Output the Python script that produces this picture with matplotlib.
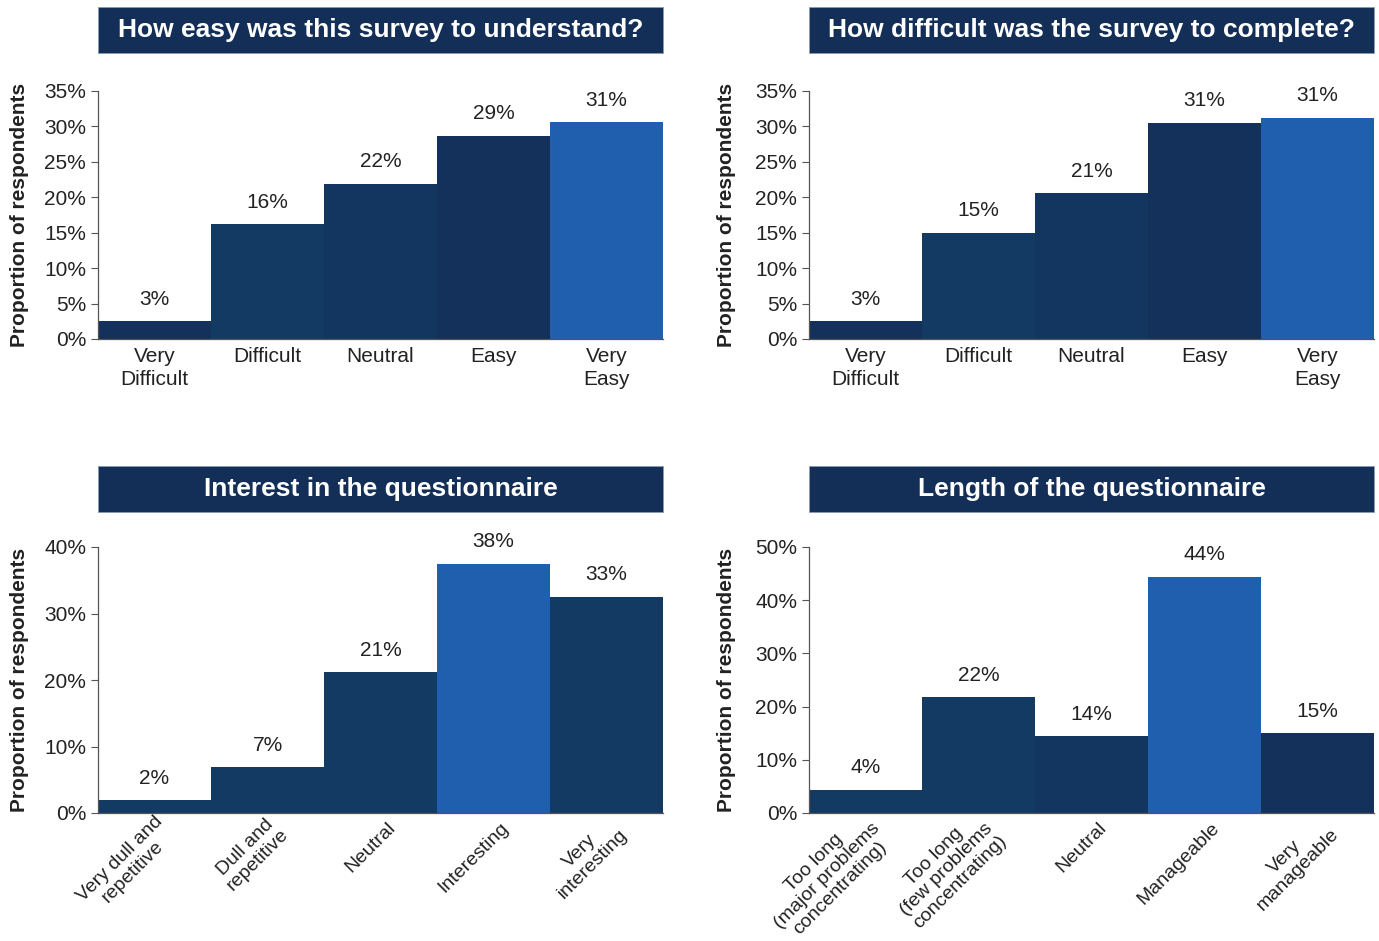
import matplotlib
matplotlib.use("Agg")
import matplotlib.pyplot as plt
from matplotlib.patches import Rectangle
from matplotlib.ticker import FuncFormatter, MultipleLocator
from matplotlib.transforms import ScaledTranslation

plt.rcParams['font.family'] = ['Liberation Sans', 'DejaVu Sans']

# ---- data ----
titles = ["How easy was this survey to understand?",
          "How difficult was the survey to complete?",
          "Interest in the questionnaire",
          "Length of the questionnaire"]

cats_understand = ["Very\nDifficult", "Difficult", "Neutral", "Easy", "Very\nEasy"]
vals_understand = [2.5, 16.2, 21.9, 28.7, 30.6]
labels_understand = ["3%", "16%", "22%", "29%", "31%"]

cats_complete = ["Very\nDifficult", "Difficult", "Neutral", "Easy", "Very\nEasy"]
vals_complete = [2.5, 15.0, 20.6, 30.5, 31.2]
labels_complete = ["3%", "15%", "21%", "31%", "31%"]

cats_interest = ["Very dull and\nrepetitive", "Dull and\nrepetitive", "Neutral",
                 "Interesting", "Very\ninteresting"]
vals_interest = [1.9, 6.9, 21.2, 37.5, 32.5]
labels_interest = ["2%", "7%", "21%", "38%", "33%"]

cats_length = ["Too long\n(major problems\nconcentrating)", "Too long\n(few problems\nconcentrating)",
               "Neutral", "Manageable", "Very\nmanageable"]
vals_length = [4.4, 21.8, 14.4, 44.4, 15.0]
labels_length = ["4%", "22%", "14%", "44%", "15%"]

NAVY = "#13315a"
NAVY2 = "#123a63"
NAVY3 = "#133661"
BLUE = "#1f5fad"
TITLE_BG = "#132f57"

colors_understand = [NAVY, NAVY2, NAVY3, NAVY, BLUE]
colors_complete = [NAVY, NAVY2, NAVY3, NAVY, BLUE]
colors_interest = [NAVY2, NAVY2, NAVY2, BLUE, NAVY2]
colors_length = [NAVY2, NAVY2, NAVY3, BLUE, NAVY]

W, H = 1379, 941
fig = plt.figure(figsize=(W / 100, H / 100), dpi=100)
fig.patch.set_facecolor("white")


def rect(x0, y0, x1, y1):
    return [x0 / W, 1 - y1 / H, (x1 - x0) / W, (y1 - y0) / H]


def panel(box, title_box, title, cats, vals, labels, colors, ymax, ystep, rotated, ylab_x):
    # title box
    tx0, ty0, tx1, ty1 = title_box
    fig.patches.append(Rectangle((tx0 / W, 1 - ty1 / H), (tx1 - tx0) / W, (ty1 - ty0) / H,
                                 transform=fig.transFigure, facecolor=TITLE_BG,
                                 edgecolor="#8a9ab0", linewidth=0.6))
    fig.text((tx0 + tx1) / 2 / W, 1 - (ty0 + ty1) / 2 / H, title, color="white",
             fontsize=19, fontweight="bold", ha="center", va="center")

    ax = fig.add_axes(rect(*box))
    x = list(range(len(cats)))
    ax.bar(x, vals, width=1.0, color=colors, edgecolor="none")
    ax.set_xlim(-0.5, len(cats) - 0.5)
    ax.set_ylim(0, ymax)
    ax.yaxis.set_major_locator(MultipleLocator(ystep))
    ax.yaxis.set_major_formatter(FuncFormatter(lambda v, p: f"{v:.0f}%"))
    for xi, v, lab in zip(x, vals, labels):
        ax.annotate(lab, (xi, v), xytext=(0, 9), textcoords="offset points",
                    ha="center", va="bottom", fontsize=15, color="#222222")
    ax.set_xticks(x)
    if rotated:
        ax.set_xticklabels(cats, rotation=45, ha="right", va="center",
                           rotation_mode="anchor", multialignment="center",
                           fontsize=14, color="#222222", linespacing=1.1)
        ax.tick_params(axis="x", length=0, pad=9)
        for t in ax.get_xticklabels():
            t.set_transform(t.get_transform() + ScaledTranslation(0.12, 0, fig.dpi_scale_trans))
    else:
        ax.set_xticklabels(cats, fontsize=15, color="#222222", linespacing=1.25)
        ax.tick_params(axis="x", length=0, pad=6)
    ax.tick_params(axis="y", labelsize=15, labelcolor="#222222", length=5,
                   color="#555555", width=0.8, direction="out")
    for s in ["top", "right"]:
        ax.spines[s].set_visible(False)
    for s in ["left", "bottom"]:
        ax.spines[s].set_color("#555555")
        ax.spines[s].set_linewidth(0.9)
    y0, y1 = box[1], box[3]
    fig.text(ylab_x / W, 1 - (y0 + y1) / 2 / H, "Proportion of respondents",
             rotation=90, ha="center", va="center", fontsize=15, fontweight="bold",
             color="#222222")
    return ax


panel((98, 91, 663, 339), (98, 7, 663, 53), titles[0], cats_understand, vals_understand,
      labels_understand, colors_understand, 35, 5, False, 20)
panel((809, 91, 1374, 339), (809, 7, 1374, 53), titles[1], cats_complete, vals_complete,
      labels_complete, colors_complete, 35, 5, False, 727)
panel((98, 547, 663, 813), (98, 466, 663, 512), titles[2], cats_interest, vals_interest,
      labels_interest, colors_interest, 40, 10, True, 20)
panel((809, 547, 1374, 813), (809, 466, 1374, 512), titles[3], cats_length, vals_length,
      labels_length, colors_length, 50, 10, True, 727)

fig.savefig("out.png", dpi=100, facecolor="white")
